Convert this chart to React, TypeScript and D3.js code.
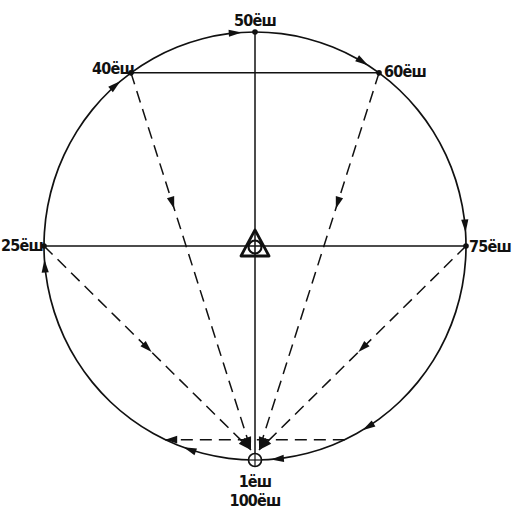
import React, { useEffect, useRef } from "react";
import * as d3 from "d3";

// ages marked on the life circle
const milestoneAges = [25, 40, 50, 60, 75];
const birthLabels = ["1ёш", "100ёш"];
// dashed "return" lines that run from a milestone back to the birth point
const returnFrom = [25, 40, 60, 75];
// dashed chord near the bottom (from age -> to age)
const lowChord = [93, 7];
// arrowheads along the circle (clockwise flow of ages)
const arcArrowAges = [5.5, 24, 39, 49, 59, 74, 91.5, 98.8];

const W = 513;
const H = 510;

const App = () => {
  const ref = useRef<SVGSVGElement>(null);

  useEffect(() => {
    if (!ref.current) return;
    const svg = d3.select(ref.current);
    svg.selectAll("*").remove();

    const cx = 255;
    const cy = 246;
    const rx = 211;
    const ry = 214;
    const ink = "#111";

    // age -> angle measured from the bottom, clockwise on screen
    const angle = d3.scaleLinear().domain([0, 100]).range([0, 2 * Math.PI]);
    const pt = (age: number): [number, number] => {
      const a = angle(age);
      return [cx - rx * Math.sin(a), cy + ry * Math.cos(a)];
    };
    const tangent = (age: number) => {
      const a = angle(age);
      return Math.atan2(-ry * Math.sin(a), -rx * Math.cos(a));
    };

    const g = svg.append("g");

    const arrow = (x: number, y: number, dir: number, len = 12, half = 3.8) => {
      const ux = Math.cos(dir);
      const uy = Math.sin(dir);
      const bx = x - ux * len;
      const by = y - uy * len;
      g.append("path")
        .attr(
          "d",
          `M${x},${y}L${bx - uy * half},${by + ux * half}L${bx + uy * half},${by - ux * half}Z`
        )
        .attr("fill", ink);
    };

    // the circle
    const ring = d3
      .line<number>()
      .x((d) => pt(d)[0])
      .y((d) => pt(d)[1])
      .curve(d3.curveCardinalClosed);
    g.append("path")
      .attr("d", ring(d3.range(0, 100, 2)))
      .attr("fill", "none")
      .attr("stroke", ink)
      .attr("stroke-width", 1.7);

    // solid axes and chord
    const solid = (a: number, b: number) => {
      const [x1, y1] = pt(a);
      const [x2, y2] = pt(b);
      g.append("line")
        .attr("x1", x1)
        .attr("y1", y1)
        .attr("x2", x2)
        .attr("y2", y2)
        .attr("stroke", ink)
        .attr("stroke-width", 1.5);
    };
    solid(50, 0);
    solid(25, 75);
    solid(40, 60);

    // dashed return lines
    const birth = pt(0);
    returnFrom.forEach((age) => {
      const [x1, y1] = pt(age);
      const tx = birth[0] + (age < 50 ? -4 : 4);
      const ty = birth[1] - 10;
      g.append("line")
        .attr("x1", x1)
        .attr("y1", y1)
        .attr("x2", tx)
        .attr("y2", ty)
        .attr("stroke", ink)
        .attr("stroke-width", 1.5)
        .attr("stroke-dasharray", "12,7");
      const dir = Math.atan2(ty - y1, tx - x1);
      const t = age === 25 || age === 75 ? 0.52 : 0.36;
      arrow(x1 + (tx - x1) * t, y1 + (ty - y1) * t, dir);
      arrow(tx, ty, dir, 13, 4.2);
    });

    // dashed chord near the bottom
    const [c1x, c1y] = pt(lowChord[0]);
    const [c2x, c2y] = pt(lowChord[1]);
    g.append("line")
      .attr("x1", c1x)
      .attr("y1", c1y)
      .attr("x2", c2x)
      .attr("y2", c2y)
      .attr("stroke", ink)
      .attr("stroke-width", 1.5)
      .attr("stroke-dasharray", "12,7");
    arrow(c2x, c2y, Math.atan2(c2y - c1y, c2x - c1x));

    // arrows along the circle
    arcArrowAges.forEach((age) => {
      const [x, y] = pt(age);
      arrow(x, y, tangent(age), 13, 3.6);
    });

    // milestone dots
    milestoneAges.forEach((age) => {
      const [x, y] = pt(age);
      g.append("circle").attr("cx", x).attr("cy", y).attr("r", 2.8).attr("fill", ink);
    });

    // centre sign: triangle with a circle
    g.append("path")
      .attr("d", `M${cx},${cy - 16}L${cx + 14},${cy + 10}L${cx - 14},${cy + 10}Z`)
      .attr("fill", "none")
      .attr("stroke", ink)
      .attr("stroke-width", 2.8)
      .attr("stroke-linejoin", "round");
    g.append("circle")
      .attr("cx", cx)
      .attr("cy", cy + 1)
      .attr("r", 6.5)
      .attr("fill", "none")
      .attr("stroke", ink)
      .attr("stroke-width", 2.2);

    // birth point
    g.append("circle")
      .attr("cx", birth[0])
      .attr("cy", birth[1])
      .attr("r", 6.5)
      .attr("fill", "#fff")
      .attr("stroke", ink)
      .attr("stroke-width", 1.7);
    g.append("line")
      .attr("x1", birth[0] - 6.5)
      .attr("x2", birth[0] + 6.5)
      .attr("y1", birth[1])
      .attr("y2", birth[1])
      .attr("stroke", ink)
      .attr("stroke-width", 1.2);
    g.append("line")
      .attr("x1", birth[0])
      .attr("x2", birth[0])
      .attr("y1", birth[1] - 6.5)
      .attr("y2", birth[1] + 6.5)
      .attr("stroke", ink)
      .attr("stroke-width", 1.2);

    // labels
    const font = "'DejaVu Sans Condensed', 'DejaVu Sans', sans-serif";
    const label = (text: string, x: number, y: number, anchor: string) =>
      g
        .append("text")
        .attr("x", x)
        .attr("y", y)
        .attr("text-anchor", anchor)
        .attr("font-family", font)
        .attr("font-size", 16)
        .attr("font-weight", "bold")
        .attr("letter-spacing", -0.8)
        .attr("fill", ink)
        .text(text);

    milestoneAges.forEach((age) => {
      const [x, y] = pt(age);
      const text = `${age}ёш`;
      if (age === 50) label(text, x, y - 6, "middle");
      else if (age === 25) label(text, x - 1, y + 5, "end");
      else if (age === 75) label(text, x + 3, y + 6, "start");
      else if (age < 50) label(text, x + 3, y + 1, "end");
      else label(text, x + 5, y + 4, "start");
    });
    birthLabels.forEach((text, i) => {
      label(text, birth[0], birth[1] + 27 + i * 19, "middle");
    });
  }, []);

  return (
    <svg
      ref={ref}
      width={W}
      height={H}
      style={{ position: "absolute", left: 0, top: 0, background: "#fff" }}
    />
  );
};

export default App;
